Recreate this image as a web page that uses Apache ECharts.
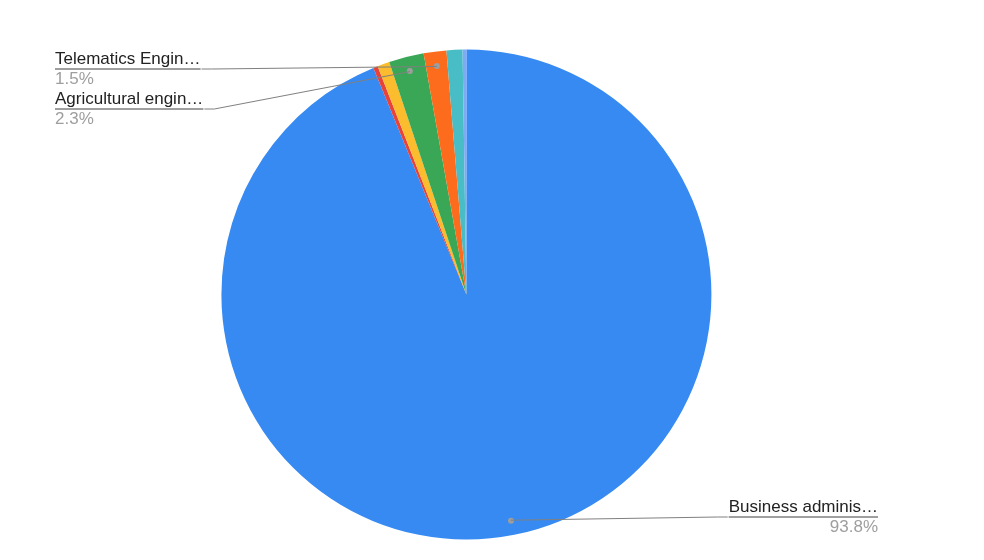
<!DOCTYPE html>
<html><head><meta charset="utf-8">
<script src="https://cdn.jsdelivr.net/npm/echarts@6/dist/echarts.min.js"></script>
<style>html,body{margin:0;padding:0;background:#fff}#c{width:984px;height:560px}</style>
</head><body><div id="c"></div>
<script>
// ---- data ----
const categories = ['Business administration', 'Category B', 'Category C', 'Agricultural engineering', 'Telematics Engineering', 'Category F', 'Category G'];
const values = [93.8, 0.3, 0.8, 2.3, 1.5, 1.05, 0.25];
const labelNames = ['Business adminis\u2026', '', '', 'Agricultural engin\u2026', 'Telematics Engin\u2026', '', ''];
const colors = ['#368af2', '#e8433a', '#fbbc2d', '#3aa757', '#fc6c1c', '#48bdc6', '#7dabf5'];

// ---- layout ----
const CX = '47.4%', CY = '52.6%', R = 245;
const labelPos = {
  0: {x: 878, y: 517, align: 'right'},
  3: {x: 55, y: 109, align: 'left'},
  4: {x: 55, y: 69, align: 'left'}
};
const font = 'Arial, "Liberation Sans", Helvetica, sans-serif';
const lineColor = '#808080';

const chart = echarts.init(document.getElementById('c'), null, {renderer: 'canvas'});

const mainData = categories.map((c, i) => ({
  name: c, value: values[i],
  itemStyle: {color: colors[i]},
  label: {show: !!labelNames[i]}
}));
const dotData = categories.map((c, i) => ({
  name: c, value: values[i],
  label: {show: !!labelNames[i]}
}));

chart.setOption({
  animation: false,
  backgroundColor: '#ffffff',
  series: [{
    type: 'pie',
    center: [CX, CY],
    radius: R,
    startAngle: 90,
    clockwise: true,
    avoidLabelOverlap: false,
    silent: true,
    itemStyle: {borderWidth: 0},
    emphasis: {disabled: true},
    data: mainData,
    label: {
      position: 'outside',
      formatter: p => '{n|' + labelNames[p.dataIndex] + '}\n{hr|}\n{p|' + p.percent.toFixed(1) + '%}',
      rich: {
        n: {fontSize: 17, color: '#222222', fontFamily: font, lineHeight: 20},
        hr: {width: '100%', height: 0, borderColor: lineColor, borderWidth: 1},
        p: {fontSize: 17, color: '#9e9e9e', fontFamily: font, lineHeight: 20}
      }
    },
    labelLine: {show: false},
    labelLayout: function (p) {
      const pos = labelPos[p.dataIndex];
      if (!pos) return {};
      return {x: pos.x, y: pos.y, align: pos.align, verticalAlign: 'middle'};
    }
  }, {
    type: 'pie',
    center: [CX, CY],
    radius: [R - 35, R],
    startAngle: 90,
    clockwise: true,
    silent: true,
    emphasis: {disabled: true},
    itemStyle: {color: 'rgba(0,0,0,0)', borderWidth: 0},
    labelLine: {show: false},
    label: {
      position: 'inside',
      formatter: '{d|}',
      rich: {d: {width: 6, height: 6, borderRadius: 3, backgroundColor: '#9e9e9e'}}
    },
    data: dotData
  }]
});

// Leader lines: from a point inside each labelled slice (on the ECharts sector's
// mid-angle) to the end of that label's underline.
(function addLeaders() {
  const zr = chart.getZr();
  const lines = [];
  zr.storage.getDisplayList(true).forEach(el => {
    if (!el.shape || el.shape.r == null || el.shape.r0 !== 0 || !el.getTextContent) return;
    const tx = el.getTextContent();
    if (!tx || tx.ignore || tx.invisible) return;
    const sh = el.shape;
    const mid = (sh.startAngle + sh.endAngle) / 2;
    const rr = sh.r - 15;
    const s = [sh.cx + rr * Math.cos(mid), sh.cy + rr * Math.sin(mid)];
    const w = tx.getBoundingRect().width;
    const y = tx.y;
    const left = tx.x < sh.cx;
    const edge = left ? tx.x + w : tx.x - w;
    const elbow = [left ? edge + 10 : edge - 10, y];
    lines.push({
      type: 'polyline', silent: true, z: 5,
      shape: {points: [s, elbow, [edge, y]]},
      style: {stroke: lineColor, lineWidth: 1, fill: null}
    });
  });
  chart.setOption({graphic: lines});
})();
</script></body></html>
